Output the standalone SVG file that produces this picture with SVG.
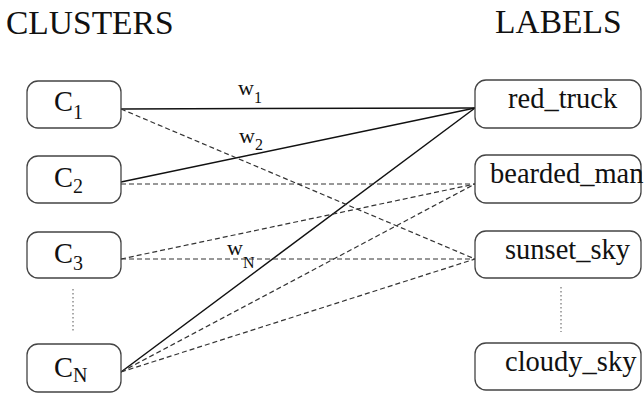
<svg xmlns="http://www.w3.org/2000/svg" width="644" height="393" viewBox="0 0 644 393">
<style>
.box{fill:#fff;stroke:#444;stroke-width:1.3}
.t{font-family:"Liberation Serif","Times New Roman",serif;fill:#111}
.node{font-size:28.5px}
.sub{font-size:20px}
.head{font-size:33.5px}
.w{font-size:22px}
.ws{font-size:16px}
.solid{stroke:#111;stroke-width:1.5;fill:none}
.dash{stroke:#333;stroke-width:1.2;stroke-dasharray:5 3;fill:none}
.dot{stroke:#555;stroke-width:1;stroke-dasharray:1.5 2.5;fill:none}
</style>
<rect width="644" height="393" fill="#fff"/>
<text class="t head" x="6" y="34">CLUSTERS</text>
<text class="t head" x="495" y="33">LABELS</text>
<g id="connectors">
<line class="solid" x1="121" y1="109" x2="475" y2="108"/>
<line class="solid" x1="121" y1="182" x2="475" y2="108"/>
<line class="solid" x1="121" y1="372" x2="475" y2="108"/>
<line class="dash" x1="121" y1="109" x2="475" y2="259"/>
<line class="dash" x1="121" y1="184" x2="475" y2="184"/>
<line class="dash" x1="121" y1="259" x2="475" y2="184"/>
<line class="dash" x1="121" y1="259" x2="475" y2="259"/>
<line class="dash" x1="121" y1="372" x2="475" y2="184"/>
<line class="dash" x1="121" y1="372" x2="475" y2="259"/>
<line class="dot" x1="73" y1="289" x2="73" y2="332"/>
<line class="dot" x1="561" y1="287" x2="561" y2="332"/>
<text class="t w" x="238" y="95">w<tspan class="ws" dy="8">1</tspan></text>
<text class="t w" x="239" y="143">w<tspan class="ws" dy="7">2</tspan></text>
<text class="t w" x="227" y="255">w<tspan class="ws" font-size="19" dy="13">N</tspan></text>
</g>
<g id="C1"><rect class="box" x="27" y="81" width="94" height="47" rx="11"/><text class="t node" x="54" y="111">C<tspan class="sub" dy="8">1</tspan></text></g>
<g id="C2"><rect class="box" x="27" y="156" width="94" height="47" rx="11"/><text class="t node" x="54" y="187">C<tspan class="sub" dy="6">2</tspan></text></g>
<g id="C3"><rect class="box" x="27" y="232" width="94" height="46" rx="11"/><text class="t node" x="54" y="263">C<tspan class="sub" dy="7">3</tspan></text></g>
<g id="CN"><rect class="box" x="27" y="344" width="94" height="48" rx="11"/><text class="t node" x="54" y="377">C<tspan class="sub" font-size="23" dy="5">N</tspan></text></g>
<g id="red_truck"><rect class="box" x="475" y="80" width="166" height="48" rx="11"/><text class="t node" x="508" y="108">red_truck</text></g>
<g id="bearded_man"><rect class="box" x="475" y="155" width="166" height="48" rx="11"/><text class="t node" x="490" y="183">bearded_man</text></g>
<g id="sunset_sky"><rect class="box" x="475" y="231" width="166" height="47" rx="11"/><text class="t node" x="505" y="259">sunset_sky</text></g>
<g id="cloudy_sky"><rect class="box" x="475" y="343" width="166" height="47" rx="11"/><text class="t node" x="505" y="371">cloudy_sky</text></g>
</svg>
